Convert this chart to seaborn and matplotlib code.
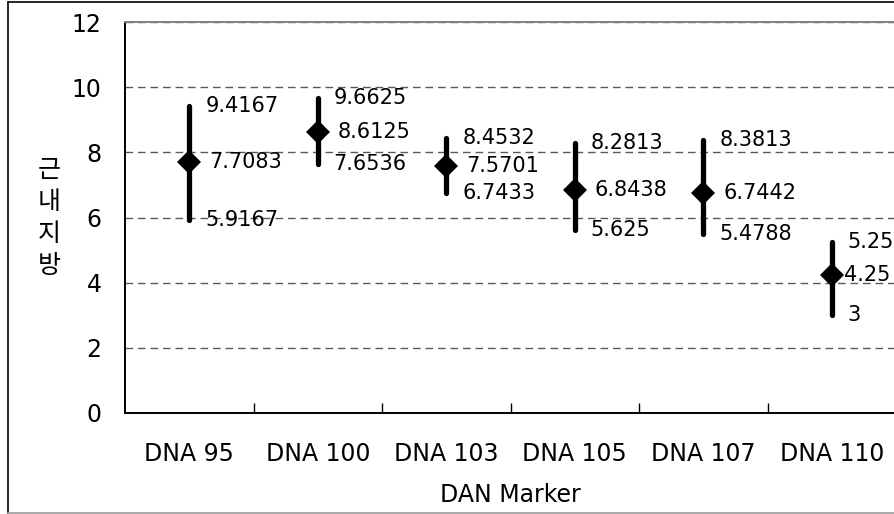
import matplotlib
matplotlib.use("Agg")
import matplotlib.pyplot as plt
from matplotlib.lines import Line2D
import seaborn as sns
import pandas as pd

markers = ["DNA 95", "DNA 100", "DNA 103", "DNA 105", "DNA 107", "DNA 110"]
upper = [9.4167, 9.6625, 8.4532, 8.2813, 8.3813, 5.25]
middle = [7.7083, 8.6125, 7.5701, 6.8438, 6.7442, 4.25]
lower = [5.9167, 7.6536, 6.7433, 5.625, 5.4788, 3]
y_ticks = [0, 2, 4, 6, 8, 10, 12]

sns.set_style("white")
plt.rcParams["font.family"] = ["DejaVu Sans", "Noto Sans CJK KR"]
plt.rcParams["text.color"] = "black"
plt.rcParams["xtick.color"] = "black"
plt.rcParams["ytick.color"] = "black"
plt.rcParams["axes.labelcolor"] = "black"

df = pd.DataFrame({
    "marker": markers * 3,
    "value": upper + middle + lower,
})

fig = plt.figure(figsize=(8.94, 5.14), dpi=100)
ax = fig.add_axes([125 / 894, 1 - 413 / 514, 771 / 894, (413 - 22) / 514])

# median of (low, mid, high) is the middle value; the 0-100 percentile span is the full range
sns.pointplot(
    data=df, x="marker", y="value", order=markers,
    estimator="median", errorbar=("pi", 100),
    linestyle="none", marker="D", markersize=12, markeredgewidth=0,
    color="black", capsize=0,
    err_kws={"linewidth": 3.8, "solid_capstyle": "round", "color": "black"},
    ax=ax,
)

ax.set_xlim(-0.5, len(markers) - 0.5)
ax.set_ylim(0, 12)
ax.set_yticks(y_ticks)

# dashed horizontal gridlines
ax.yaxis.grid(True, linestyle=(0, (5.5, 3.5)), color="#5a5a5a", linewidth=1.0)
ax.xaxis.grid(False)
ax.set_axisbelow(True)

for side in ["left", "bottom"]:
    ax.spines[side].set_color("black")
    ax.spines[side].set_linewidth(1.4)
ax.spines["top"].set_color("#808080")
ax.spines["top"].set_linewidth(1.4)
ax.spines["right"].set_visible(False)

# category separator ticks on the x axis
ax.set_xticks([i + 0.5 for i in range(len(markers) - 1)], minor=True)
ax.tick_params(axis="x", which="minor", direction="in", length=7, width=1, color="black", bottom=True)
ax.tick_params(axis="x", which="major", length=0, pad=21, labelsize=17)
ax.tick_params(axis="y", which="major", length=0, pad=17, labelsize=17)

ax.set_xlabel("DAN Marker", fontsize=17, labelpad=12)
ax.set_ylabel("근\n내\n지\n방", rotation=0, fontsize=18, linespacing=1.3,
              family=["Noto Sans CJK KR", "DejaVu Sans"], va="center", ha="center")
ax.yaxis.set_label_coords(-(125 - 49) / 771, (413 - 218) / 391)

last = len(markers) - 1
for i in range(len(markers)):
    # the rightmost middle label is tucked closer to its bar so it stays inside the frame
    mid_dx = 8.5 if i == last else 14.5
    ax.annotate(f"{upper[i]:g}", xy=(i, upper[i]), xytext=(11.5, 0),
                textcoords="offset points", va="center", ha="left", fontsize=15)
    ax.annotate(f"{middle[i]:g}", xy=(i, middle[i]), xytext=(mid_dx, 0),
                textcoords="offset points", va="center", ha="left", fontsize=15)
    ax.annotate(f"{lower[i]:g}", xy=(i, lower[i]), xytext=(11.5, 0),
                textcoords="offset points", va="center", ha="left", fontsize=15)

# outer frame around the whole chart
W, H = 894, 514
fig.add_artist(Line2D([7.5 / W, 7.5 / W], [1 - 1.5 / H, 1 - 512.5 / H], color="black", linewidth=1.2))
fig.add_artist(Line2D([7.5 / W, 1.0], [1 - 1.5 / H, 1 - 1.5 / H], color="black", linewidth=1.2))
fig.add_artist(Line2D([7.5 / W, 1.0], [1 - 512.5 / H, 1 - 512.5 / H], color="#9a9a9a", linewidth=1.2))

fig.savefig("out.png", dpi=100)
